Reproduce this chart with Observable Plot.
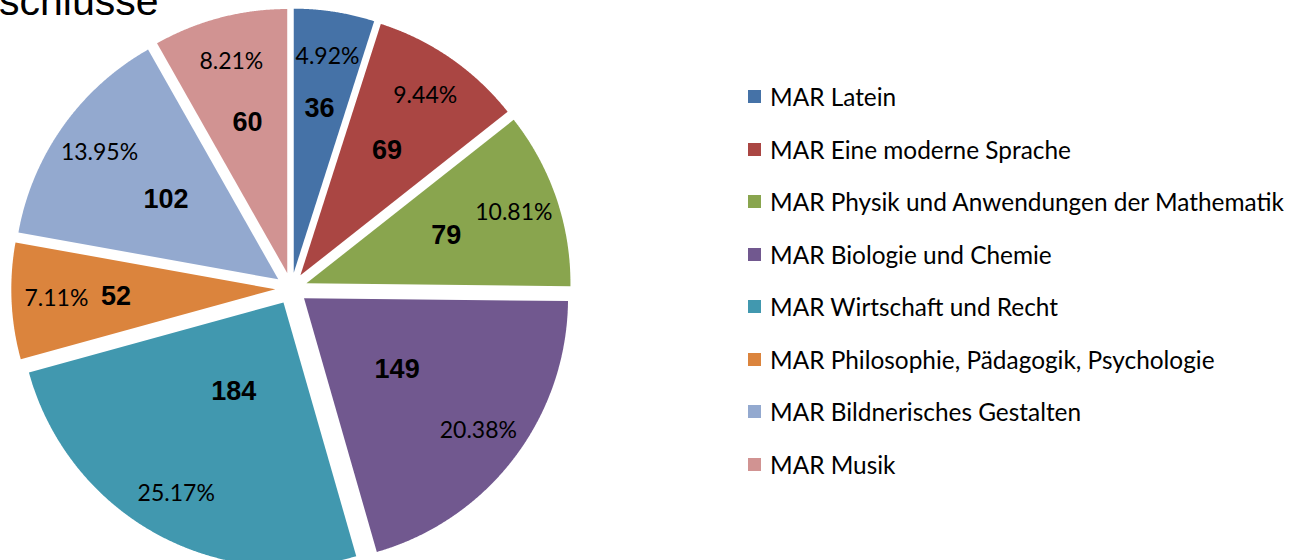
<!DOCTYPE html>
<html><head><meta charset="utf-8">
<script src="https://cdn.jsdelivr.net/npm/d3@7"></script>
<script src="https://cdn.jsdelivr.net/npm/@observablehq/plot@0.6"></script>
<style>
body{margin:0;background:#fff;}
#wrap{position:relative;width:1291px;height:560px;overflow:hidden;background:#fff;}
#title{position:absolute;left:-1px;top:-19px;font:41px/41px "Liberation Sans",Arial,sans-serif;color:#000;white-space:nowrap;}
#chart{position:absolute;left:0;top:0;}
#legend{position:absolute;left:748px;top:70.5px;width:560px;}
#legend .leg-swatch{height:52.5px !important;padding:0 !important;margin:0 !important;font:24.4px Lato,sans-serif !important;color:#000 !important;display:flex !important;align-items:center !important;}
#legend .leg-swatch svg{margin-right:9px !important;}
#legend .leg, #legend div{font-family:Lato,sans-serif;font-size:24.4px;margin:0;}
</style></head><body>
<div id="wrap"><div id="chart"></div><div id="legend"></div><div id="title">schlüsse</div></div>
<script>
const categories = [
  "MAR Latein",
  "MAR Eine moderne Sprache",
  "MAR Physik und Anwendungen der Mathematik",
  "MAR Biologie und Chemie",
  "MAR Wirtschaft und Recht",
  "MAR Philosophie, Pädagogik, Psychologie",
  "MAR Bildnerisches Gestalten",
  "MAR Musik"
];
const counts = [36, 69, 79, 149, 184, 52, 102, 60];
const colors = ["#4572A7", "#AA4643", "#89A54E", "#71588F", "#4198AF", "#DB843D", "#93A9CF", "#D19392"];

const W = 1291, H = 560;
const cxPx = 290.8, cyPx = 288, Rpx = 264;
const explode = 16 / Rpx;
const total = d3.sum(counts);
const pie = d3.pie().sort(null).value(d => d)(counts);

const slicePts = [];
const labels = [];
pie.forEach((p, i) => {
  const mid = (p.startAngle + p.endAngle) / 2;
  const ox = explode * Math.sin(mid), oy = explode * Math.cos(mid);
  slicePts.push({name: categories[i], x: ox, y: oy});
  const n = Math.max(2, Math.ceil((p.endAngle - p.startAngle) / 0.004));
  for (let j = 0; j <= n; j++) {
    const a = p.startAngle + (p.endAngle - p.startAngle) * j / n;
    slicePts.push({name: categories[i], x: ox + Math.sin(a), y: oy + Math.cos(a)});
  }
  const f = counts[i] / total;
  const rc = 0.69 - 1.21 * f, rp = 0.83;
  labels.push({
    name: categories[i],
    cx: ox + rc * Math.sin(mid), cy: oy + rc * Math.cos(mid),
    px: ox + rp * Math.sin(mid), py: oy + rp * Math.cos(mid),
    count: String(counts[i]),
    pct: (f * 100).toFixed(2) + "%"
  });
});

const chart = Plot.plot({
  width: W, height: H,
  margin: 0,
  x: {domain: [-cxPx / Rpx, (W - cxPx) / Rpx], range: [0, W], axis: null},
  y: {domain: [-(H - cyPx) / Rpx, cyPx / Rpx], range: [H, 0], axis: null},
  color: {domain: categories, range: colors},
  style: {background: "transparent"},
  marks: [
    Plot.line(slicePts, {x: "x", y: "y", z: "name", fill: "name", stroke: "none"}),
    Plot.text(labels, {x: "cx", y: "cy", text: "count", fontSize: 27, fontWeight: "bold", fontFamily: "Liberation Sans, Arial, sans-serif", fill: "#000"}),
    Plot.text(labels, {x: "px", y: "py", text: "pct", fontSize: 23, fontFamily: "Lato, sans-serif", fill: "#000"})
  ]
});
document.getElementById("chart").appendChild(chart);

const legend = Plot.legend({
  color: {domain: categories, range: colors},
  legend: "swatches",
  columns: 1,
  swatchSize: 13,
  className: "leg"
});
document.getElementById("legend").appendChild(legend);
</script>
</body></html>
